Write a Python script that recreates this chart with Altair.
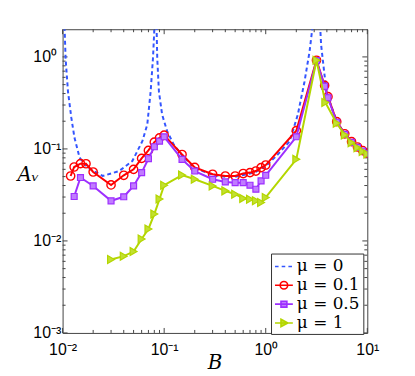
import altair as alt
import pandas as pd

# ---------------- data ----------------
mu_labels = ["μ\u00a0=\u00a00", "μ\u00a0=\u00a00.1", "μ\u00a0=\u00a00.5", "μ\u00a0=\u00a01"]

# mu = 0 (dashed theoretical curve)
b_mu0 = [0.01035, 0.0107, 0.0113, 0.0122, 0.0131, 0.0147, 0.0177, 0.0248, 0.036, 0.0486,
         0.061, 0.0682, 0.0736, 0.0776, 0.0815, 0.0836, 0.0855, 0.0888, 0.0955, 0.107,
         0.124, 0.15, 0.2, 0.3, 0.4, 0.5, 0.6, 0.7, 0.8, 0.9, 1.0, 1.27, 1.72, 2.07,
         2.41, 2.70, 3.0, 3.38, 3.51, 3.79, 4.0, 5.0, 6.0, 7.0, 8.0, 9.0, 10.0]
a_mu0 = [3.0, 0.97, 0.42, 0.217, 0.132, 0.0803, 0.0626, 0.0508, 0.0575, 0.0738,
         0.1214, 0.184, 0.42, 0.968, 3.0, 3.0, 0.968, 0.42, 0.236, 0.156,
         0.112, 0.085, 0.062, 0.052, 0.0498, 0.0498, 0.052, 0.054, 0.0565, 0.061, 0.065, 0.0836, 0.121, 0.236,
         0.541, 1.14, 3.0, 3.0, 1.35, 0.639, 0.40, 0.198, 0.146, 0.12, 0.105, 0.096, 0.090]

# mu = 0.1
b_mu01 = [0.012, 0.013, 0.015, 0.017, 0.02, 0.03, 0.04, 0.05, 0.06, 0.07, 0.08, 0.09, 0.1,
          0.15, 0.2, 0.3, 0.4, 0.5, 0.6, 0.7, 0.8, 0.9, 1.0, 2.0, 3.16, 3.8, 4.1,
          5.0, 6.0, 7.0, 8.0, 9.0, 10.0]
a_mu01 = [0.0508, 0.0636, 0.0692, 0.069, 0.0561, 0.0406, 0.0517, 0.060, 0.0789, 0.0963, 0.1185, 0.132, 0.141,
          0.087, 0.063, 0.053, 0.0508, 0.0508, 0.054, 0.0553, 0.0575, 0.0626, 0.0668, 0.158, 0.92, 0.49, 0.37,
          0.198, 0.146, 0.12, 0.105, 0.096, 0.090]

# mu = 0.5
b_mu05 = [0.013, 0.015, 0.02, 0.03, 0.04, 0.05, 0.06, 0.07, 0.08, 0.09, 0.1,
          0.15, 0.2, 0.3, 0.4, 0.5, 0.6, 0.7, 0.8, 0.9, 1.0, 2.0, 3.16, 3.8, 4.1,
          5.0, 6.0, 7.0, 8.0, 9.0, 10.0]
a_mu05 = [0.0304, 0.0489, 0.0396, 0.0273, 0.0302, 0.0396, 0.0553, 0.0783, 0.1056, 0.1215, 0.1355,
          0.077, 0.0575, 0.0468, 0.0438, 0.043, 0.043, 0.0403, 0.0365, 0.0449, 0.0517, 0.1355, 0.91, 0.48, 0.36,
          0.195, 0.144, 0.118, 0.104, 0.095, 0.089]

# mu = 1
b_mu1 = [0.03, 0.04, 0.05, 0.06, 0.07, 0.08, 0.09, 0.1, 0.15, 0.2, 0.3, 0.4, 0.5, 0.6, 0.7,
         0.8, 0.9, 1.0, 2.0, 3.16, 3.86, 5.0, 6.0, 7.0, 8.0, 9.0, 10.0]
a_mu1 = [0.00628, 0.00683, 0.00766, 0.0105, 0.0135, 0.0196, 0.0285, 0.0403, 0.052, 0.0468, 0.0396, 0.035,
         0.0322, 0.029, 0.0284, 0.0273, 0.0262, 0.0297, 0.077, 0.92, 0.32, 0.19, 0.142, 0.117, 0.103, 0.094, 0.088]

# ticks
x_major = [0.01, 0.1, 1, 10]
x_major_labels = ["10⁻²", "10⁻¹", "10⁰", "10¹"]
x_minor = [0.02, 0.03, 0.04, 0.05, 0.06, 0.07, 0.08, 0.09,
           0.2, 0.3, 0.4, 0.5, 0.6, 0.7, 0.8, 0.9,
           2, 3, 4, 5, 6, 7, 8, 9]
y_major = [0.001, 0.01, 0.1, 1]
y_major_labels = ["10⁻³", "10⁻²", "10⁻¹", "10⁰"]
y_minor = [0.002, 0.003, 0.004, 0.005, 0.006, 0.007, 0.008, 0.009,
           0.02, 0.03, 0.04, 0.05, 0.06, 0.07, 0.08, 0.09,
           0.2, 0.3, 0.4, 0.5, 0.6, 0.7, 0.8, 0.9]

# ---------------- styles ----------------
BLUE = "#3355ff"
RED = "#ff0000"
PURPLE = "#9d2fff"
GREEN = "#b4d600"
W, H = 307, 306

frames = []
for lab, bs, as_ in zip(mu_labels, [b_mu0, b_mu01, b_mu05, b_mu1], [a_mu0, a_mu01, a_mu05, a_mu1]):
    frames.append(pd.DataFrame({"B": bs, "A": as_, "mu": lab}))
df = pd.concat(frames, ignore_index=True)

def label_expr(vals, labs):
    expr = "''"
    for v, l in reversed(list(zip(vals, labs))):
        expr = f"abs(datum.value/{v} - 1) < 0.01 ? '{l}' : ({expr})"
    return expr

xscale = alt.Scale(type="log", domain=[0.01, 10], nice=False)
yscale = alt.Scale(type="log", domain=[0.001, 2], nice=False)

xaxis = alt.Axis(values=x_major, labelExpr=label_expr(x_major, x_major_labels), ticks=False, domain=False,
                 grid=False, labelFont="Liberation Sans", labelFontSize=16, labelPadding=9, labelColor="black",
                 labelFlush=False, labelOverlap=False,
                 title="B", titleFont="DejaVu Serif", titleFontStyle="italic", titleFontWeight="normal",
                 titleFontSize=20, titleX=153, titleY=30, titleBaseline="middle", titleColor="black")
yaxis = alt.Axis(values=y_major, labelExpr=label_expr(y_major, y_major_labels), ticks=False, domain=False,
                 grid=False, labelFont="Liberation Sans", labelFontSize=16, labelPadding=30, labelAlign="left",
                 labelBaseline="middle", labelColor="black", labelFlush=False, labelOverlap=False,
                 title="Aᵥ", titleAngle=0, titleFont="DejaVu Serif", titleFontStyle="italic",
                 titleFontWeight="normal", titleFontSize=20, titleX=-35, titleY=146, titleAlign="center",
                 titleBaseline="middle", titleColor="black")

base = alt.Chart(df)
X = alt.X("B:Q", scale=xscale, axis=xaxis)
Y = alt.Y("A:Q", scale=yscale, axis=yaxis)

def series(lab):
    return base.transform_filter(alt.datum.mu == lab)

line0 = series(mu_labels[0]).mark_line(color=BLUE, strokeWidth=2, strokeDash=[4, 3], clip=True).encode(x=X, y=Y)
line1 = series(mu_labels[1]).mark_line(color=RED, strokeWidth=2, clip=True).encode(x=X, y=Y)
pts1 = series(mu_labels[1]).mark_point(shape="circle", filled=False, color=RED, size=70, strokeWidth=1.4,
                                       opacity=1, clip=True).encode(x=X, y=Y)
line2 = series(mu_labels[2]).mark_line(color=PURPLE, strokeWidth=2, clip=True).encode(x=X, y=Y)
pts2 = series(mu_labels[2]).mark_point(shape="square", filled=True, fill="#c07cff", stroke=PURPLE, size=36,
                                       strokeWidth=1.2, opacity=1, clip=True).encode(x=X, y=Y)
line3 = series(mu_labels[3]).mark_line(color=GREEN, strokeWidth=2, clip=True).encode(x=X, y=Y)
pts3 = series(mu_labels[3]).mark_point(shape="triangle-right", filled=True, fill="#c2e030", stroke=GREEN,
                                       size=64, strokeWidth=1.2, opacity=1, clip=True).encode(x=X, y=Y)

# legend carrier (invisible marks), symbols drawn as line + marker paths
legend_paths = [
    "M-1,0H-0.6M-0.25,0H0.15M0.5,0H0.9",
    "M-1,0H1M0.42,0A0.42,0.42,0,1,1,-0.42,0A0.42,0.42,0,1,1,0.42,0Z",
    "M-1,0H1M-0.33,-0.33H0.33V0.33H-0.33Z",
    "M-1,0H1M-0.33,-0.42L0.45,0L-0.33,0.42Z",
]
leg = alt.Legend(orient="none", legendX=210, legendY=226, title=None, fillColor="white", strokeColor="#333",
                 padding=3, labelFont="DejaVu Serif", labelFontSize=17, labelColor="black", symbolSize=324,
                 symbolStrokeWidth=1.6, labelOffset=3, rowPadding=1, symbolOpacity=1, labelLimit=200)
legend_layer = base.mark_point(opacity=0, filled=True).encode(
    x=X, y=Y,
    shape=alt.Shape("mu:N", scale=alt.Scale(domain=mu_labels, range=legend_paths), legend=leg),
    stroke=alt.Stroke("mu:N", scale=alt.Scale(domain=mu_labels, range=[BLUE, RED, PURPLE, GREEN]), legend=leg),
    fill=alt.Fill("mu:N", scale=alt.Scale(domain=mu_labels,
                                          range=["transparent", "transparent", "#c07cff", "#c2e030"]), legend=leg),
).transform_filter(alt.datum.B == 10)

# inward ticks on all four sides
TICK_COLOR = "#444"
def xticks(vals, length):
    d = pd.DataFrame({"t": vals})
    c = alt.Chart(d)
    bot = c.mark_rule(color=TICK_COLOR, strokeWidth=1).encode(
        x=alt.X("t:Q", scale=xscale, axis=xaxis), y=alt.value(H), y2=alt.value(H - length))
    top = c.mark_rule(color=TICK_COLOR, strokeWidth=1).encode(
        x=alt.X("t:Q", scale=xscale, axis=xaxis), y=alt.value(0), y2=alt.value(length))
    return [bot, top]

def yticks(vals, length):
    d = pd.DataFrame({"t": vals})
    c = alt.Chart(d)
    lft = c.mark_rule(color=TICK_COLOR, strokeWidth=1).encode(
        y=alt.Y("t:Q", scale=yscale, axis=yaxis), x=alt.value(0), x2=alt.value(length))
    rgt = c.mark_rule(color=TICK_COLOR, strokeWidth=1).encode(
        y=alt.Y("t:Q", scale=yscale, axis=yaxis), x=alt.value(W), x2=alt.value(W - length))
    return [lft, rgt]

tick_layers = xticks(x_major, 5) + xticks(x_minor, 3) + yticks(y_major, 5) + yticks(y_minor, 3)

chart = alt.layer(
    *tick_layers, line0, line1, pts1, line2, pts2, line3, pts3, legend_layer
).properties(
    width=W, height=H,
    autosize=alt.AutoSizeParams(type="none"),
    padding={"left": 55, "top": 20, "right": 40, "bottom": 42},
    background="white",
).configure_view(
    stroke="#444", strokeWidth=1
)

chart.save("out.html", embed_options={"renderer": "svg", "actions": False})
